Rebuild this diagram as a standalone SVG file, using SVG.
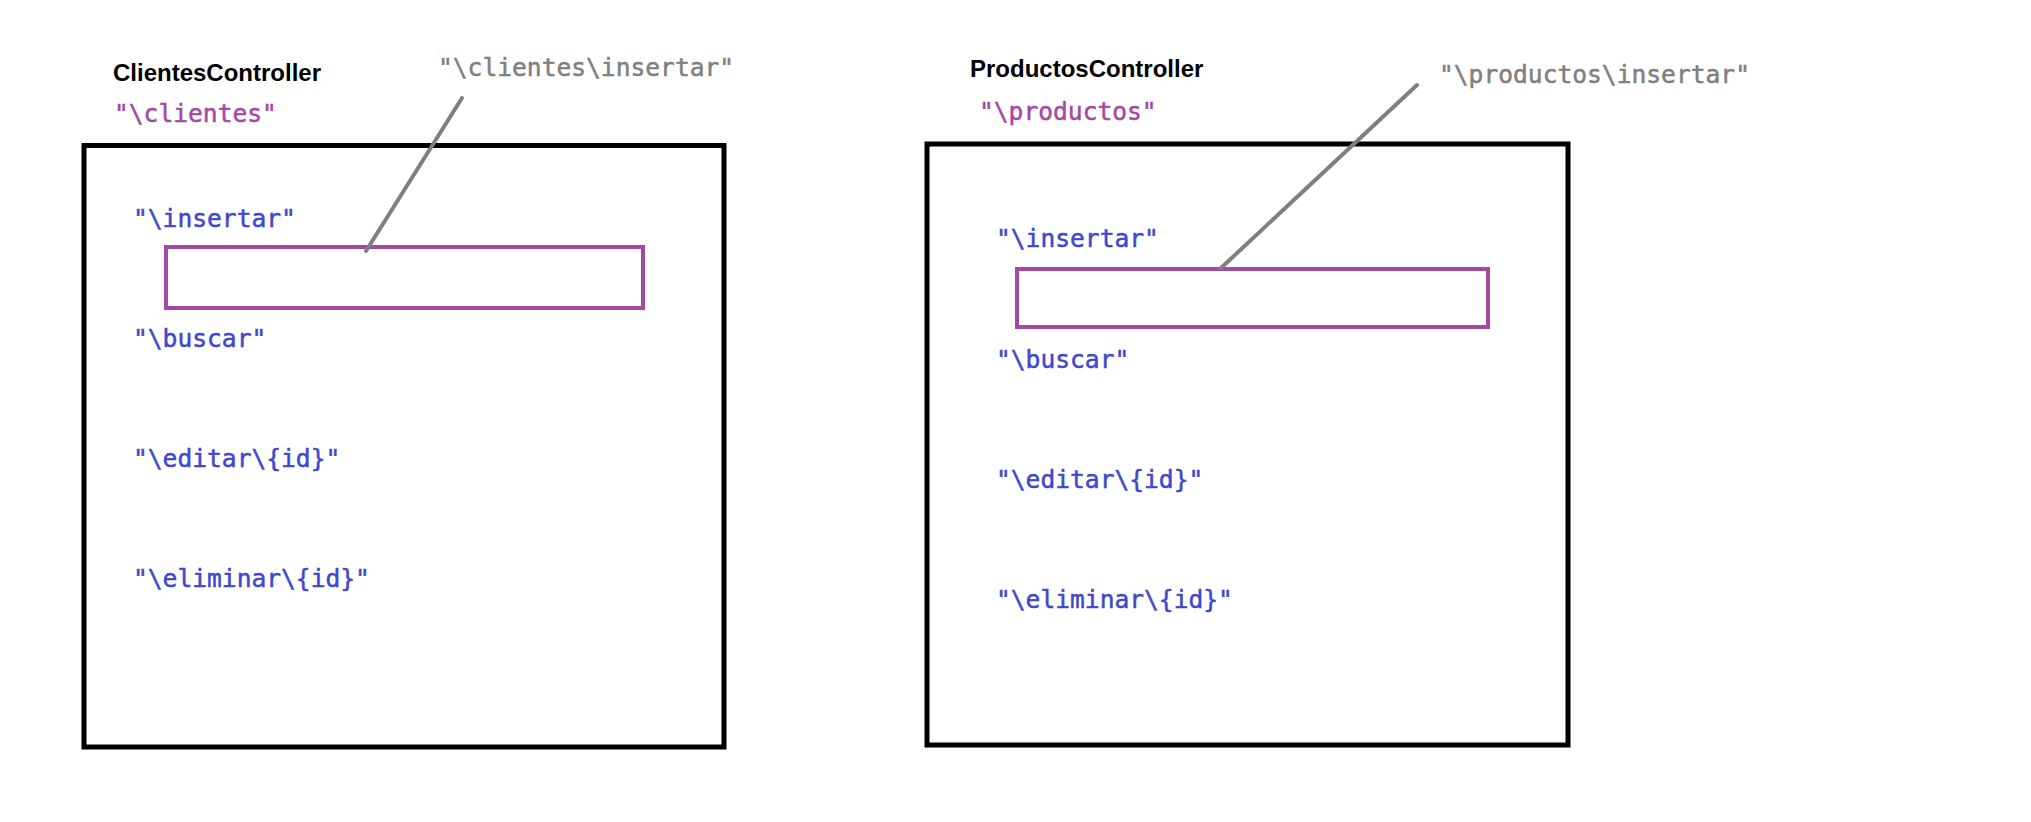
<svg xmlns="http://www.w3.org/2000/svg" width="2031" height="822" viewBox="0 0 2031 822">
<style>
.title{font-family:"Liberation Sans",Arial,sans-serif;font-weight:bold;font-size:24px;fill:#000}
.mono{font-family:"DejaVu Sans Mono","Liberation Mono",monospace;font-size:24.6px;stroke-width:0.5px}
.route{fill:#a349a4;stroke:#a349a4}
.action{fill:#3f48cc;stroke:#3f48cc}
.path{fill:#7f7f7f;stroke:#7f7f7f}
.frame{fill:#fff;stroke:#000;stroke-width:5}
.slot{fill:#fff;stroke:#a349a4;stroke-width:4}
.lead{stroke:#7f7f7f;stroke-width:4;stroke-linecap:round;fill:none}
</style>
<rect width="2031" height="822" fill="#fff"/>
<g id="clientes">
<text class="title" x="113" y="81">ClientesController</text>
<text class="mono route" x="114" y="122">"\clientes"</text>
<rect class="frame" x="84" y="145.5" width="640" height="601.5"/>
<text class="mono action" x="133" y="227">"\insertar"</text>
<rect class="slot" x="166" y="247" width="477" height="61"/>
<text class="mono action" x="133" y="347">"\buscar"</text>
<text class="mono action" x="133" y="467">"\editar\{id}"</text>
<text class="mono action" x="133" y="587">"\eliminar\{id}"</text>
</g>
<g id="productos">
<text class="title" x="970" y="77">ProductosController</text>
<text class="mono route" x="979" y="120">"\productos"</text>
<rect class="frame" x="927" y="144" width="641" height="601"/>
<text class="mono action" x="996" y="247">"\insertar"</text>
<rect class="slot" x="1017" y="269" width="471" height="58"/>
<text class="mono action" x="996" y="368">"\buscar"</text>
<text class="mono action" x="996" y="488">"\editar\{id}"</text>
<text class="mono action" x="996" y="608">"\eliminar\{id}"</text>
</g>
<g id="callouts">
<text class="mono path" x="438" y="76">"\clientes\insertar"</text>
<text class="mono path" x="1439" y="83">"\productos\insertar"</text>
</g>
<g id="connectors">
<line class="lead" x1="462" y1="98" x2="366" y2="251"/>
<line class="lead" x1="1417" y1="85" x2="1221" y2="268"/>
</g>
</svg>
